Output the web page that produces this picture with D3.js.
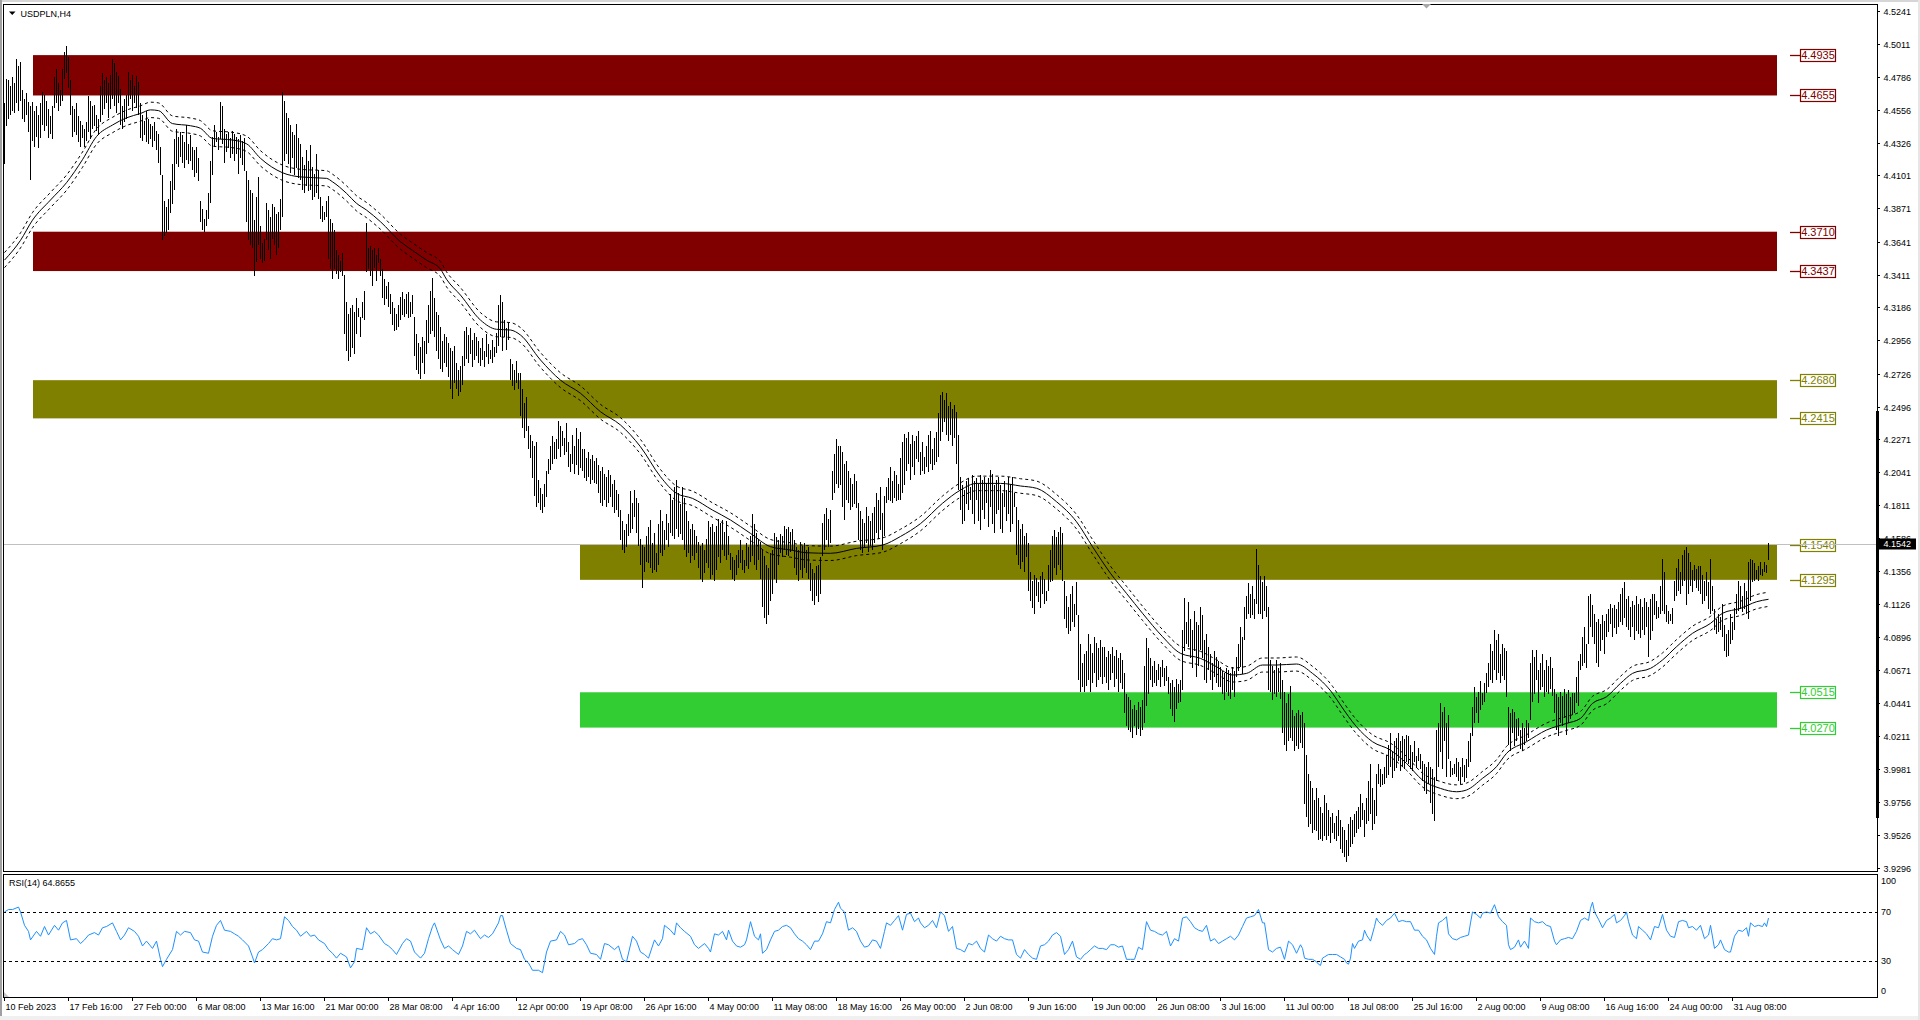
<!DOCTYPE html>
<html><head><meta charset="utf-8">
<script src="https://cdn.jsdelivr.net/npm/d3@7"></script>
<style>
html,body{margin:0;padding:0;background:#fff;overflow:hidden}
svg{display:block}
text{font-family:"Liberation Sans",Arial,sans-serif;font-size:9px;fill:#000}
</style></head><body>
<svg id="chart" width="1920" height="1020"></svg>
<script>
// ---------------- DATA ----------------
const symbolTitle = "USDPLN,H4";
const priceTickLabels = ["4.5241","4.5011","4.4786","4.4556","4.4326","4.4101","4.3871","4.3641","4.3411","4.3186","4.2956","4.2726","4.2496","4.2271","4.2041","4.1811","4.1586","4.1356","4.1126","4.0896","4.0671","4.0441","4.0211","3.9981","3.9756","3.9526","3.9296"];
const timeLabels = ["10 Feb 2023","17 Feb 16:00","27 Feb 00:00","6 Mar 08:00","13 Mar 16:00","21 Mar 00:00","28 Mar 08:00","4 Apr 16:00","12 Apr 00:00","19 Apr 08:00","26 Apr 16:00","4 May 00:00","11 May 08:00","18 May 16:00","26 May 00:00","2 Jun 08:00","9 Jun 16:00","19 Jun 00:00","26 Jun 08:00","3 Jul 16:00","11 Jul 00:00","18 Jul 08:00","25 Jul 16:00","2 Aug 00:00","9 Aug 08:00","16 Aug 16:00","24 Aug 00:00","31 Aug 08:00"];
const barsPerTimeLabel = 32;
const lastPrice = 4.1542;

// H4 bar highs / lows, price x 1000
const barHigh = [
4460,4477,4476,4472,4478,4474,4491,4486,4489,4469, 4463,4467,4461,4458,4461,4455,4458,4452,4460,4468,
4466,4462,4456,4451,4458,4478,4484,4474,4469,4484, 4496,4500,4492,4476,4458,4456,4460,4451,4448,4445,
4442,4447,4465,4462,4458,4459,4452,4449,4472,4481, 4476,4478,4474,4480,4491,4488,4482,4479,4470,4458,
4463,4466,4482,4476,4480,4472,4479,4475,4460,4452, 4448,4455,4449,4446,4444,4447,4441,4439,4430,4410,
4392,4388,4394,4406,4418,4435,4442,4437,4440,4438, 4433,4445,4432,4438,4430,4428,4430,4422,4392,4387,
4380,4386,4398,4420,4437,4445,4440,4437,4461,4458, 4442,4439,4440,4436,4441,4439,4437,4435,4438,4434,
4436,4413,4407,4400,4398,4379,4395,4409,4375,4363, 4366,4391,4386,4381,4390,4388,4383,4385,4394,4468,
4462,4453,4450,4445,4440,4438,4446,4436,4432,4423, 4417,4428,4420,4431,4416,4411,4425,4414,4395,4389,
4385,4392,4396,4380,4377,4372,4358,4355,4351,4356, 4341,4322,4314,4318,4320,4315,4325,4318,4312,4322,
4330,4377,4360,4361,4358,4360,4355,4360,4352,4345, 4338,4333,4336,4328,4322,4318,4314,4320,4326,4329,
4324,4328,4329,4322,4327,4312,4300,4294,4291,4298, 4295,4310,4320,4330,4339,4325,4315,4313,4305,4295,
4300,4298,4294,4290,4288,4292,4280,4275,4278,4285, 4302,4305,4299,4304,4296,4301,4298,4295,4290,4297,
4288,4300,4293,4289,4296,4291,4301,4320,4327,4322, 4310,4304,4308,4283,4279,4275,4281,4273,4273,4262,
4252,4256,4236,4230,4226,4222,4225,4199,4193,4189, 4196,4205,4213,4222,4229,4225,4227,4240,4236,4233,
4228,4238,4225,4217,4230,4222,4235,4227,4232,4220, 4220,4214,4218,4213,4216,4212,4214,4209,4205,4208,
4203,4201,4206,4202,4196,4199,4192,4189,4178,4170, 4164,4168,4175,4191,4183,4192,4186,4183,4158,4154,
4152,4160,4166,4171,4155,4162,4148,4168,4178,4170, 4164,4175,4169,4189,4185,4194,4199,4190,4182,4194,
4186,4177,4170,4165,4168,4164,4160,4156,4153,4155, 4150,4158,4170,4166,4168,4163,4167,4172,4169,4171,
4163,4170,4160,4148,4145,4143,4147,4150,4157,4150, 4143,4155,4152,4160,4175,4168,4162,4158,4156,4150,
4146,4140,4138,4148,4150,4162,4159,4157,4161,4160, 4167,4165,4166,4163,4165,4157,4152,4150,4156,4153,
4155,4150,4152,4141,4137,4134,4139,4140,4145,4169, 4175,4179,4172,4178,4205,4217,4227,4222,4222,4218,
4210,4212,4205,4200,4196,4203,4198,4183,4177,4172, 4169,4180,4174,4170,4176,4180,4190,4185,4194,4176,
4188,4194,4200,4208,4198,4205,4202,4196,4214,4225, 4231,4228,4232,4224,4230,4226,4229,4233,4218,4225,
4215,4222,4230,4233,4220,4228,4232,4245,4258,4260, 4254,4259,4250,4253,4248,4251,4246,4230,4201,4195,
4192,4198,4200,4194,4202,4198,4200,4196,4202,4199, 4201,4197,4200,4206,4203,4195,4199,4201,4195,4190,
4198,4192,4201,4196,4201,4190,4180,4171,4165,4168, 4160,4162,4155,4135,4129,4133,4131,4128,4132,4135,
4130,4122,4140,4150,4160,4164,4159,4163,4166,4162, 4129,4118,4111,4120,4125,4113,4128,4105,4085,4072,
4078,4080,4092,4085,4079,4090,4086,4082,4088,4083, 4083,4076,4080,4078,4083,4077,4081,4075,4079,4074,
4065,4050,4048,4046,4040,4043,4039,4045,4041,4046, 4070,4089,4082,4075,4070,4073,4067,4071,4069,4074,
4068,4070,4062,4058,4060,4055,4061,4057,4060,4095, 4117,4100,4114,4102,4095,4108,4100,4098,4111,4105,
4088,4092,4083,4078,4072,4080,4076,4073,4069,4066, 4065,4068,4067,4065,4069,4066,4076,4085,4097,4090,
4111,4118,4127,4120,4125,4116,4151,4140,4132,4128, 4132,4125,4111,4074,4070,4067,4074,4068,4072,4060,
4052,4044,4050,4056,4039,4035,4037,4039,4036,4038, 4030,4008,3995,3990,3985,3977,3985,3978,3972,3968,
3980,3975,3970,3965,3968,3961,3966,3970,3963,3958, 3956,3949,3960,3965,3963,3967,3969,3972,3981,3975,
3970,3978,3990,4002,3985,3977,3995,4002,3998,3995, 4000,4008,4015,4023,4011,4018,4020,4023,4018,4021,
4019,4022,4021,4015,4010,4018,4007,4013,4009,4004, 4002,4000,4003,4000,3998,3993,4025,4030,4044,4038,
4041,4030,4036,4004,3999,4002,4006,4003,4000,4006, 4001,4005,4018,4023,4041,4055,4048,4052,4059,4051,
4058,4065,4072,4085,4080,4095,4088,4092,4078,4085, 4082,4080,4041,4037,4040,4038,4033,4034,4025,4030,
4027,4032,4030,4072,4081,4076,4081,4067,4072,4078, 4067,4074,4070,4076,4068,4054,4050,4048,4052,4049,
4054,4050,4053,4048,4051,4051,4062,4073,4078,4090, 4097,4085,4118,4120,4112,4106,4100,4102,4099,4105,
4101,4106,4109,4113,4110,4112,4109,4114,4120,4124, 4128,4116,4118,4111,4115,4112,4118,4113,4116,4111,
4117,4114,4111,4116,4120,4120,4115,4111,4125,4144, 4135,4112,4108,4106,4110,4129,4138,4144,4135,4147,
4150,4152,4148,4142,4136,4140,4137,4139,4139,4133, 4129,4135,4128,4144,4125,4109,4102,4106,4104,4113,
4098,4092,4095,4106,4100,4110,4120,4129,4125,4118, 4127,4122,4142,4144,4143,4141,4136,4139,4142,4137,
4142,4140,4155];
const barLow = [
4418,4444,4449,4452,4455,4453,4460,4455,4462,4449, 4447,4452,4440,4407,4434,4430,4437,4429,4436,4445,
4441,4444,4436,4439,4435,4457,4460,4455,4458,4462, 4477,4481,4471,4452,4437,4440,4438,4433,4430,4436,
4430,4434,4440,4435,4442,4444,4441,4438,4447,4452, 4456,4460,4450,4456,4463,4458,4453,4460,4445,4442,
4447,4449,4458,4463,4455,4460,4457,4452,4436,4434, 4438,4433,4432,4435,4430,4434,4428,4419,4410,4365,
4368,4370,4372,4384,4390,4400,4418,4416,4423,4419, 4415,4421,4418,4420,4414,4409,4412,4406,4378,4372,
4371,4375,4380,4391,4410,4430,4433,4428,4435,4432, 4419,4426,4429,4422,4425,4420,4425,4411,4422,4417,
4413,4378,4365,4362,4360,4340,4350,4362,4352,4349, 4351,4365,4358,4352,4366,4362,4355,4360,4372,4381,
4420,4425,4418,4412,4422,4410,4415,4408,4407,4400, 4398,4403,4399,4400,4393,4395,4398,4394,4380,4378,
4379,4381,4352,4345,4338,4345,4342,4338,4343,4340, 4300,4288,4281,4284,4290,4286,4300,4312,4298,4311,
4310,4343,4345,4340,4333,4346,4337,4349,4340,4325, 4320,4324,4319,4314,4306,4302,4303,4305,4310,4313,
4312,4314,4311,4312,4314,4285,4275,4272,4269,4280, 4272,4286,4294,4300,4302,4298,4288,4283,4276,4274,
4280,4277,4270,4262,4255,4266,4262,4257,4260,4265, 4278,4283,4280,4286,4277,4282,4285,4280,4278,4282,
4277,4284,4279,4283,4280,4284,4287,4292,4298,4288, 4298,4289,4296,4268,4264,4261,4266,4262,4243,4235,
4228,4233,4220,4214,4200,4188,4180,4183,4178,4176, 4180,4187,4203,4206,4210,4213,4213,4220,4215,4222,
4216,4218,4208,4204,4210,4203,4209,4202,4207,4205, 4200,4198,4201,4196,4199,4197,4196,4190,4183,4181,
4185,4180,4183,4187,4180,4176,4178,4173,4157,4150, 4148,4152,4160,4162,4165,4173,4162,4153,4140,4124,
4135,4142,4141,4138,4134,4136,4135,4140,4148,4146, 4150,4157,4152,4162,4160,4158,4165,4159,4161,4157,
4150,4145,4148,4141,4146,4143,4148,4138,4130,4128, 4134,4141,4138,4130,4133,4129,4136,4145,4141,4150,
4146,4143,4147,4136,4130,4129,4133,4138,4141,4136, 4134,4139,4137,4142,4146,4140,4136,4143,4130,4111,
4103,4099,4105,4115,4120,4130,4127,4140,4148,4145, 4150,4147,4146,4149,4150,4138,4133,4129,4136,4131,
4138,4134,4130,4122,4115,4112,4118,4114,4120,4146, 4150,4157,4152,4155,4185,4190,4196,4193,4195,4180,
4171,4185,4183,4178,4180,4182,4179,4157,4150,4148, 4152,4155,4149,4153,4150,4155,4162,4158,4164,4150,
4160,4183,4185,4184,4183,4186,4184,4185,4185,4190, 4195,4205,4210,4199,4208,4202,4213,4211,4202,4205,
4203,4208,4204,4210,4206,4209,4211,4215,4226,4232, 4239,4230,4226,4230,4222,4228,4210,4192,4178,4168,
4170,4182,4178,4185,4175,4168,4185,4170,4164,4178, 4172,4183,4166,4180,4168,4162,4175,4178,4165,4162,
4180,4170,4175,4163,4168,4180,4147,4140,4137,4142, 4135,4145,4122,4115,4110,4106,4118,4114,4110,4120,
4113,4115,4122,4128,4129,4138,4133,4140,4136,4129, 4102,4096,4092,4094,4100,4097,4105,4060,4052,4055,
4052,4056,4060,4052,4058,4065,4055,4060,4062,4057, 4062,4058,4053,4060,4065,4055,4061,4052,4058,4054,
4037,4028,4025,4024,4020,4028,4022,4026,4021,4025, 4030,4042,4050,4060,4055,4058,4056,4060,4055,4062,
4056,4059,4050,4040,4035,4031,4040,4044,4045,4053, 4080,4085,4083,4075,4068,4080,4062,4070,4081,4075,
4060,4058,4067,4060,4053,4062,4058,4055,4055,4050, 4046,4052,4049,4047,4053,4048,4062,4066,4069,4064,
4088,4102,4106,4103,4105,4102,4113,4106,4106,4102, 4108,4104,4053,4052,4046,4050,4048,4052,4047,4023,
4015,4011,4018,4020,4018,4011,4014,4012,4016,4013, 3974,3965,3958,3960,3954,3956,3955,3949,3950,3948,
3952,3949,3952,3947,3954,3950,3948,3952,3943,3940, 3937,3934,3938,3944,3946,3951,3954,3957,3958,3963,
3951,3960,3962,3967,3956,3960,3966,3988,3986,3987, 3988,3992,3994,4000,3992,3997,3999,4004,3997,4000,
3998,4003,4002,3998,3997,4003,3999,4004,3998,3990, 3983,3981,3988,3975,3967,3962,3990,4000,4010,3998,
4018,3993,4005,3993,3994,3995,3993,3990,3988,3993, 3989,3992,4000,4003,4021,4030,4037,4030,4039,4043,
4045,4051,4055,4060,4058,4067,4060,4065,4058,4063, 4060,4048,4015,4011,4023,4014,4018,4021,4012,4011,
4015,4018,4020,4032,4045,4050,4060,4044,4053,4055, 4048,4052,4050,4054,4049,4037,4025,4021,4030,4028,
4034,4022,4030,4033,4036,4037,4044,4042,4067,4070, 4072,4068,4085,4097,4090,4085,4072,4069,4080,4088,
4078,4090,4093,4099,4090,4096,4092,4097,4100,4098, 4103,4097,4095,4090,4097,4088,4094,4092,4089,4095,
4091,4097,4076,4088,4094,4105,4102,4103,4106,4108, 4106,4100,4099,4101,4099,4115,4118,4122,4120,4125,
4129,4112,4120,4125,4121,4129,4124,4122,4120,4113, 4115,4118,4109,4106,4108,4095,4092,4093,4095,4090,
4080,4076,4077,4085,4088,4095,4106,4108,4109,4107, 4109,4106,4102,4115,4128,4129,4130,4129,4133,4132,
4135,4134,4143];

// moving average (bar index, price) and its envelope width in percent
const maPoints = [[0,4.3513],[8,4.3650],[14,4.3790],[23,4.3930],[31,4.4050],[39,4.4210],[46,4.4370],[54,4.4450],[61,4.4500],[68,4.4530],[73,4.4555],[77,4.4550],[84,4.4460],[93,4.4445],[98,4.4427],[104,4.4357],[114,4.4346],[121,4.4320],[128,4.4219],[139,4.4119],[148,4.4090],[161,4.4080],[164,4.4056],[171,4.3976],[176,4.3907],[181,4.3860],[188,4.3779],[198,4.3640],[204,4.3580],[211,4.3513],[218,4.3450],[221,4.3380],[228,4.3270],[238,4.3097],[246,4.3033],[253,4.3028],[258,4.2993],[268,4.2820],[278,4.2680],[288,4.2589],[298,4.2461],[308,4.2369],[318,4.2218],[328,4.2010],[336,4.1895],[344,4.1860],[354,4.1779],[363,4.1710],[373,4.1617],[383,4.1525],[393,4.1502],[401,4.1483],[413,4.1479],[426,4.1513],[439,4.1536],[448,4.1596],[458,4.1685],[469,4.1826],[478,4.1918],[486,4.1964],[498,4.1964],[508,4.1946],[516,4.1930],[526,4.1837],[536,4.1698],[544,4.1525],[553,4.1340],[561,4.1201],[569,4.1063],[579,4.0901],[588,4.0785],[598,4.0750],[606,4.0692],[614,4.0635],[621,4.0646],[629,4.0704],[636,4.0704],[646,4.0711],[654,4.0646],[664,4.0508],[668,4.0426],[676,4.0276],[684,4.0172],[693,4.0114],[701,4.0022],[709,3.9906],[718,3.9848],[726,3.9825],[731,3.9837],[739,3.9918],[746,3.9999],[751,4.0091],[761,4.0172],[771,4.0253],[781,4.0299],[788,4.0334],[794,4.0438],[801,4.0484],[808,4.0577],[814,4.0646],[823,4.0681],[829,4.0739],[836,4.0831],[844,4.0924],[853,4.0993],[859,4.1063],[868,4.1097],[876,4.1143],[882,4.1160]];
const envelopePercent = 0.12;

// RSI(14): (bar index, value)
const rsiTitle = "RSI(14) 64.8655";
const rsiPoints = [[0,70],[2,72],[4,72],[7,74],[8,70],[10,59],[12,54],[13,47],[16,54],[18,50],[20,58],[22,51],[25,59],[27,55],[29,61],[31,63],[33,47],[36,48],[38,44],[40,47],[42,51],[45,53],[47,51],[49,57],[51,58],[54,61],[56,54],[58,47],[60,51],[62,57],[65,54],[67,50],[69,42],[71,46],[74,40],[76,46],[78,31],[79,25],[81,31],[84,39],[86,54],[88,51],[90,54],[93,53],[95,47],[97,46],[99,37],[102,36],[104,50],[106,59],[108,63],[110,55],[113,54],[115,52],[117,50],[119,47],[122,42],[124,33],[125,28],[127,37],[129,39],[132,44],[134,48],[136,47],[138,48],[140,66],[142,63],[144,58],[146,55],[148,50],[151,54],[153,50],[155,51],[157,47],[160,44],[162,39],[164,36],[166,32],[168,36],[171,33],[173,24],[175,29],[176,40],[179,39],[181,57],[183,52],[185,54],[187,51],[190,44],[192,42],[194,39],[196,35],[199,44],[201,48],[203,46],[205,37],[208,32],[210,36],[212,48],[214,58],[215,61],[218,47],[220,40],[222,42],[224,39],[227,35],[229,42],[231,54],[233,52],[235,55],[238,48],[240,51],[242,49],[244,52],[247,61],[248,67],[249,67],[251,55],[253,44],[256,40],[258,39],[260,31],[262,28],[264,22],[267,22],[269,20],[271,37],[273,46],[276,47],[278,54],[280,51],[282,43],[285,44],[287,47],[289,48],[291,43],[293,36],[296,35],[298,31],[300,44],[302,43],[305,39],[307,42],[309,31],[311,29],[314,50],[316,46],[318,37],[320,35],[322,32],[325,47],[327,42],[329,48],[330,59],[333,55],[335,51],[336,61],[338,57],[340,54],[343,50],[345,43],[347,40],
[350,44],[352,40],[353,37],[355,52],[357,51],[359,54],[361,47],[362,55],[364,46],[366,42],[368,41],[370,43],[371,47],[373,62],[375,50],[377,47],[378,52],[379,36],[381,39],[383,47],[385,54],[387,55],[389,58],[391,59],[393,57],[395,52],[397,48],[399,46],[401,43],[403,39],[405,46],[407,46],[409,52],[411,62],[413,61],[415,72],[417,78],[418,73],[420,70],[422,55],[424,57],[426,54],[428,46],[430,41],[432,42],[434,47],[436,46],[438,40],[440,54],[441,61],[443,59],[445,63],[447,67],[449,55],[451,68],[453,69],[455,62],[457,65],[458,61],[460,57],[462,59],[464,63],[466,57],[468,70],[470,67],[472,54],[474,58],[476,40],[478,39],[480,37],[482,44],[484,43],[486,46],[488,40],[490,37],[492,51],[494,48],[496,46],[498,50],[500,48],[502,47],[504,47],[506,35],[508,32],[510,39],[512,35],[514,32],[516,31],[518,42],[520,43],[522,46],[524,51],[526,53],[528,50],[530,35],[532,39],[534,46],[536,33],[538,31],[540,35],[541,36],[543,39],[545,42],[547,40],[549,40],[551,39],[553,43],[555,43],[557,41],[559,42],[561,31],[563,31],[565,31],[567,41],[569,39],[571,62],[573,55],[575,54],[577,52],[579,51],[581,54],[583,42],[585,48],[587,46],[589,65],[591,66],[593,62],[595,57],[597,55],[599,54],[601,59],[603,46],[605,48],[607,44],[609,46],[611,48],[613,50],[615,47],[617,51],[619,58],[621,65],[623,66],[625,67],[627,72],[629,61],[630,61],[632,39],[634,37],[636,40],[638,41],[640,31],[642,46],[644,43],[646,36],
[648,43],[649,40],[650,32],[652,31],[654,31],[656,29],[657,27],[658,26],[659,32],[660,33],[662,35],[664,35],[666,35],[668,33],[670,31],[671,28],[672,27],[673,32],[674,44],[675,40],[677,46],[679,47],[680,55],[681,51],[683,46],[685,58],[686,65],[687,62],[689,59],[691,63],[693,65],[695,69],[697,62],[699,63],[701,62],[703,62],[705,55],[707,55],[709,50],[711,47],[713,40],[715,35],[716,50],[717,61],[719,63],[721,66],[722,52],[724,48],[726,47],[728,49],[730,50],[732,51],[733,61],[734,70],[736,68],[738,65],[739,69],[741,70],[743,69],[745,76],[747,66],[749,62],[751,59],[752,43],[753,39],[755,41],[757,47],[758,41],[760,46],[762,40],[763,65],[765,62],[767,61],[769,62],[771,59],[773,58],[775,46],[776,43],[778,47],[780,48],[782,49],[784,48],[786,54],[788,63],[790,65],[792,63],[793,73],[794,78],[795,70],[797,64],[799,57],[801,63],[803,65],[805,68],[806,61],[808,63],[810,67],[811,70],[812,62],[814,51],[816,48],[817,58],[819,55],[821,52],[823,47],[825,58],[827,57],[829,68],[831,55],[833,50],[835,49],[837,62],[839,63],[841,62],[842,57],[844,58],[846,55],[848,59],[850,48],[852,51],[853,59],[855,40],[857,43],[858,47],[860,39],[862,37],[863,37],[865,50],[867,55],[869,54],[871,57],[872,50],[873,61],[875,58],[877,59],[879,58],[880,61],[881,58],[882,65]];
const rsiLevels = [70, 30];
const rsiAxisValues = [100, 70, 30, 0];

// horizontal zones (price bands, anchored between bar positions)
const zoneTop = [4.4935, 4.3710, 4.2680, 4.1540, 4.0515];
const zoneBottom = [4.4655, 4.3437, 4.2415, 4.1295, 4.0270];
const zoneFromBar = [14.25, 14.25, 14.25, 287.75, 287.75];
const zoneToBar = [886.25, 886.25, 886.25, 886.25, 886.25];
const zoneKind = ["resistance", "resistance", "pivot", "pivot", "support"];

// ---------------- STYLE / LAYOUT ----------------
const zoneColor = {resistance: "#800000", pivot: "#808000", support: "#32cd32"};
const W = 1920, H = 1020;
const main = {left: 3, right: 1877, top: 4, bottom: 871};
const rsiBox = {top: 874, bottom: 997};
const barStartX = 4.5, barStep = 2;

const svg = d3.select("#chart");
svg.append("rect").attr("width", W).attr("height", H).attr("fill", "#fff");
svg.append("rect").attr("x", 0).attr("y", 0).attr("width", W).attr("height", 2).attr("fill", "#d6d6d6");
svg.append("rect").attr("x", 0).attr("y", 0).attr("width", 2).attr("height", H).attr("fill", "#a0a0a0");
svg.append("rect").attr("x", 0).attr("y", 1016).attr("width", W).attr("height", 4).attr("fill", "#f0f0f0");
svg.append("rect").attr("x", 1918).attr("y", 0).attr("width", 2).attr("height", H).attr("fill", "#e6e6e6");

const nBars = Math.min(barHigh.length, barLow.length);
const x = d3.scaleLinear().domain([0, 1]).range([barStartX, barStartX + barStep]);
const y = d3.scaleLinear().domain([3.9296, 4.5241]).range([868, 11]);
const yR = d3.scaleLinear().domain([0, 100]).range([rsiBox.bottom, 875.5]);

const defs = svg.append("defs");
defs.append("clipPath").attr("id", "clipMain").append("rect")
  .attr("x", main.left + 1).attr("y", main.top + 1)
  .attr("width", main.right - main.left - 1).attr("height", main.bottom - main.top - 1);
defs.append("clipPath").attr("id", "clipRsi").append("rect")
  .attr("x", main.left + 1).attr("y", rsiBox.top + 1)
  .attr("width", main.right - main.left - 1).attr("height", rsiBox.bottom - rsiBox.top - 1);

const gMain = svg.append("g").attr("clip-path", "url(#clipMain)");

// zones
const zones = zoneTop.map((t, i) => ({top: t, bottom: zoneBottom[i], from: zoneFromBar[i], to: zoneToBar[i], color: zoneColor[zoneKind[i]]}));
gMain.selectAll("rect.zone").data(zones).join("rect").attr("class", "zone")
  .attr("x", d => x(d.from)).attr("width", d => x(d.to) - x(d.from))
  .attr("y", d => y(d.top)).attr("height", d => y(d.bottom) - y(d.top))
  .attr("fill", d => d.color);

// zone price labels
const zoneLabels = [];
zones.forEach(z => { zoneLabels.push({v: z.top, color: z.color}); zoneLabels.push({v: z.bottom, color: z.color}); });
const zl = gMain.selectAll("g.zl").data(zoneLabels).join("g").attr("class", "zl")
  .attr("transform", d => `translate(0,${Math.round(y(d.v)) + 0.5})`);
zl.append("line").attr("x1", 1790).attr("x2", 1801).attr("y1", 0).attr("y2", 0)
  .attr("stroke", d => d.color).attr("stroke-width", 1.3);
zl.append("rect").attr("x", 1800.5).attr("y", -6).attr("width", 35).attr("height", 12)
  .attr("fill", "#fff").attr("stroke", d => d.color).attr("stroke-width", 1.2);
zl.append("text").attr("x", 1818).attr("y", 0).attr("dy", "0.36em").attr("text-anchor", "middle")
  .style("font-size", "11px").style("fill", d => d.color).text(d => d.v.toFixed(4));

// current price line
gMain.append("line").attr("x1", main.left).attr("x2", main.right)
  .attr("y1", Math.round(y(lastPrice)) + 0.5).attr("y2", Math.round(y(lastPrice)) + 0.5)
  .attr("stroke", "#c0c0c0").attr("stroke-width", 1);

// moving average + envelope
const lineMA = k => d3.line().x(d => x(d[0])).y(d => y(d[1] * k)).curve(d3.curveMonotoneX);
gMain.append("path").datum(maPoints).attr("d", lineMA(1)).attr("fill", "none").attr("stroke", "#000").attr("stroke-width", 1);
gMain.append("path").datum(maPoints).attr("d", lineMA(1 + envelopePercent / 100)).attr("fill", "none").attr("stroke", "#000").attr("stroke-width", 1).attr("stroke-dasharray", "3,3");
gMain.append("path").datum(maPoints).attr("d", lineMA(1 - envelopePercent / 100)).attr("fill", "none").attr("stroke", "#000").attr("stroke-width", 1).attr("stroke-dasharray", "3,3");

// OHLC bars (high-low)
const bars = d3.range(nBars).map(i => ({i, hi: barHigh[i] / 1000, lo: barLow[i] / 1000}));
gMain.selectAll("line.bar").data(bars).join("line").attr("class", "bar")
  .attr("x1", d => Math.floor(x(d.i)) + 0.5).attr("x2", d => Math.floor(x(d.i)) + 0.5)
  .attr("y1", d => Math.round(y(d.hi))).attr("y2", d => Math.max(Math.round(y(d.lo)), Math.round(y(d.hi)) + 1))
  .attr("stroke", "#000").attr("stroke-width", 1).attr("shape-rendering", "crispEdges");

// panel borders
svg.append("rect").attr("x", main.left + 0.5).attr("y", main.top + 0.5)
  .attr("width", main.right - main.left).attr("height", main.bottom - main.top)
  .attr("fill", "none").attr("stroke", "#000");
svg.append("rect").attr("x", main.left + 0.5).attr("y", rsiBox.top + 0.5)
  .attr("width", main.right - main.left).attr("height", rsiBox.bottom - rsiBox.top)
  .attr("fill", "none").attr("stroke", "#000");

// thick range marker on the price scale
svg.append("rect").attr("x", 1876).attr("y", 411).attr("width", 3).attr("height", 407).attr("fill", "#000");

// price axis
const pt = svg.append("g").selectAll("g").data(priceTickLabels).join("g")
  .attr("transform", d => `translate(0,${Math.round(y(+d)) + 0.5})`);
pt.append("line").attr("x1", main.right).attr("x2", main.right + 3).attr("stroke", "#000");
pt.append("text").attr("x", 1883.5).attr("dy", "0.35em").text(d => d);

// current price box
const cp = svg.append("g").attr("transform", `translate(0,${Math.round(y(lastPrice))})`);
cp.append("rect").attr("x", 1878).attr("y", -5.5).attr("width", 38).attr("height", 11).attr("fill", "#000");
cp.append("text").attr("x", 1883.5).attr("dy", "0.35em").style("fill", "#fff").text(lastPrice.toFixed(4));

// title
svg.append("path").attr("d", "M9,11.5 L15.5,11.5 L12.25,15 Z").attr("fill", "#000");
svg.append("text").attr("x", 20.5).attr("y", 13.5).attr("dy", "0.35em").text(symbolTitle);
// chart-shift marker
svg.append("path").attr("d", "M1422,4 L1431,4 L1426.5,8.5 Z").attr("fill", "#a8a8a8");

// RSI panel
const gR = svg.append("g").attr("clip-path", "url(#clipRsi)");
gR.selectAll("line.lvl").data(rsiLevels).join("line").attr("class", "lvl")
  .attr("x1", main.left).attr("x2", main.right)
  .attr("y1", d => Math.round(yR(d)) + 0.5).attr("y2", d => Math.round(yR(d)) + 0.5)
  .attr("stroke", "#000").attr("stroke-dasharray", "3,3");
gR.append("path").datum(rsiPoints)
  .attr("d", d3.line().x(d => x(d[0])).y(d => yR(d[1])))
  .attr("fill", "none").attr("stroke", "#1e90ff").attr("stroke-width", 1);
svg.append("text").attr("x", 9).attr("y", 882.7).attr("dy", "0.35em").text(rsiTitle);
svg.append("path").attr("d", "M4,992 L4,997 L9,997 Z").attr("fill", "#c8c8c8");
svg.selectAll("text.rl").data(rsiAxisValues).join("text").attr("class", "rl")
  .attr("x", 1881).attr("dy", "0.35em")
  .attr("y", d => Math.min(Math.max(yR(d), rsiBox.top + 7), rsiBox.bottom - 6))
  .text(d => d);

// time axis
const tl = svg.append("g").selectAll("g").data(timeLabels).join("g")
  .attr("transform", (d, k) => `translate(${Math.floor(x(k * barsPerTimeLabel)) + 0.5},0)`);
tl.append("line").attr("y1", rsiBox.bottom).attr("y2", rsiBox.bottom + 4).attr("stroke", "#000");
tl.append("text").attr("x", 1).attr("y", 1007).attr("dy", "0.35em").text(d => d);
</script>
</body></html>
